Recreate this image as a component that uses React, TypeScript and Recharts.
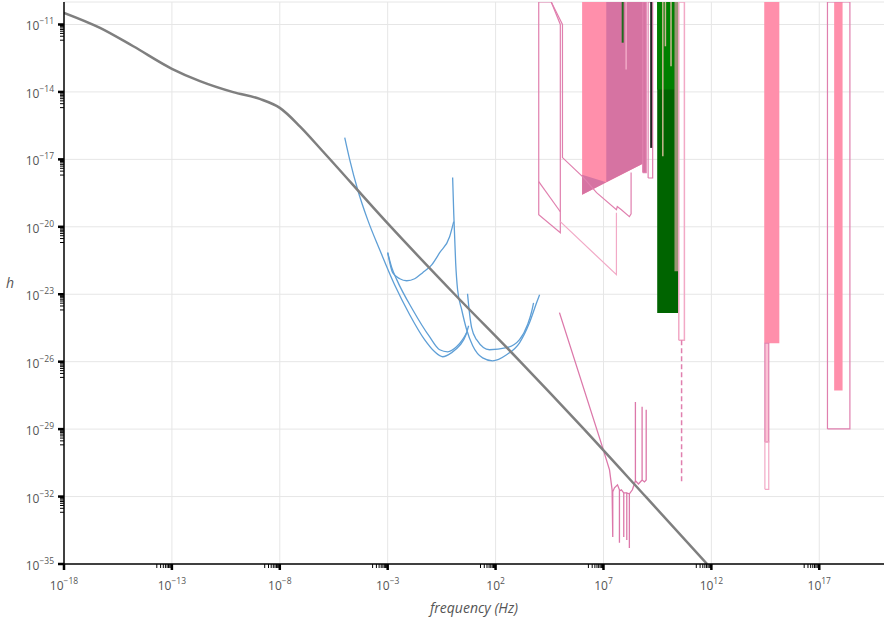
import React from 'react'
import { ComposedChart, Line, Area, XAxis, YAxis, CartesianGrid } from 'recharts'

// every value is log10: [log10 frequency (Hz), log10 h]
type Pt = [number, number]
type Rect = { x1: number; x2: number; y1: number; y2: number }

const xMajors = [-18, -13, -8, -3, 2, 7, 12, 17]
const yMajors = [-35, -32, -29, -26, -23, -20, -17, -14, -11]
const xDomain: [number, number] = [-18, 20]
const yDomain: [number, number] = [-35, -10]

const greyCurve: Pt[] = [
  [-18, -10.48], [-16.33, -11.15], [-14.79, -11.97], [-13, -12.97], [-11.7, -13.52],
  [-10.16, -14.01], [-8.93, -14.31], [-8, -14.71], [-7.07, -15.53], [-6, -16.65],
  [-3, -19.85], [0, -22.9], [3, -25.85], [6, -28.9], [9, -32.05], [11.8, -35],
]

const blueA: Pt[] = [
  [-4.99, -16.03], [-4.76, -17.01], [-4.39, -18.35], [-3.93, -19.68], [-3.37, -21.02],
  [-2.68, -22.58], [-1.98, -23.91], [-1.29, -25.02], [-0.82, -25.56], [-0.45, -25.78],
  [-0.04, -25.6], [0.33, -25.29], [0.61, -24.85], [0.75, -24.4],
]
const blueB: Pt[] = [
  [-3.0, -21.15], [-2.81, -21.82], [-2.58, -22.35], [-1.84, -23.69], [-1.06, -24.89],
  [-0.59, -25.47], [-0.22, -25.56], [0.19, -25.34], [0.47, -25.02], [0.66, -24.71],
]
const blueC: Pt[] = [
  [0.01, -17.81], [0.06, -19.37], [0.15, -21.6], [0.24, -22.8], [0.43, -23.69],
  [0.66, -24.58], [0.94, -25.29], [1.4, -25.83], [1.86, -25.96], [2.51, -25.69],
  [3.11, -25.16], [3.57, -24.27], [3.9, -23.38], [4.04, -23.02],
]
const blueD: Pt[] = [
  [-3.0, -21.15], [-2.77, -22.04], [-2.44, -22.31], [-2.12, -22.4], [-1.75, -22.31],
  [-1.38, -22.04], [-0.96, -21.69], [-0.59, -21.15], [-0.13, -20.44], [0.06, -19.77],
]
const blueE: Pt[] = [
  [0.7, -22.98], [0.8, -23.91], [0.89, -24.49], [1.12, -25.02], [1.72, -25.47],
  [2.51, -25.38], [3.11, -25.02], [3.48, -24.36], [3.67, -23.78], [3.76, -23.38],
]
const blueCurves = [blueA, blueB, blueC, blueD, blueE]

const pinkOutline1: Pt[] = [[4.58, -10], [4.0, -10], [4.0, -19.46], [5.0, -20.26], [5.0, -11], [4.58, -10]]
const pinkOutline1Inner: Pt[] = [[4.0, -17.99], [5.0, -19.33]]
const pinkOutline2: Pt[] = [
  [4.58, -10], [5.1, -11], [5.1, -16.92], [6.03, -17.77], [6.68, -18.48], [7.6, -19.24],
  [7.64, -19.1], [7.83, -19.24], [8.2, -19.55], [8.28, -19.42], [8.28, -17.59],
]
const pinkOutline3: Pt[] = [[5.0, -19.77], [7.6, -22.13], [7.6, -19.37]]

const pinkResonant: Pt[] = [
  [4.96, -23.82], [6.95, -29.79], [7.28, -30.81], [7.4, -31.7], [7.43, -33.8], [7.43, -31.79],
  [7.51, -31.61], [7.65, -31.48], [7.74, -31.7], [7.74, -34.06], [7.74, -31.75], [7.83, -31.7],
  [7.94, -31.84], [7.94, -33.8], [7.94, -31.84], [8.08, -31.84], [8.08, -33.93], [8.08, -31.84],
  [8.2, -31.88], [8.2, -34.29], [8.2, -31.88], [8.34, -31.7], [8.48, -31.3], [8.48, -27.79],
  [8.48, -31.3], [8.62, -31.44], [8.79, -31.26], [8.79, -28.01], [8.79, -31.26], [8.9, -31.35],
  [8.98, -31.26], [8.98, -28.14],
]

// [log10 f, low, high]
const pinkFillBand: [number, number, number][] = [[6.01, -18.57, -10], [8.82, -17.19, -10]]
const mauveFillBand: [number, number, number][] = [
  [6.01, -18.57, -17.68], [7.13, -18.02, -18.02], [7.13, -18.02, -10], [8.82, -17.19, -10],
]

const mauveRect: Rect = { x1: 8.82, x2: 8.98, y1: -17.59, y2: -10 }
const pinkRectB: Rect = { x1: 9.07, x2: 9.28, y1: -17.83, y2: -10 }
const greenDark: Rect = { x1: 9.49, x2: 10.49, y1: -23.84, y2: -10 }
const greenBright: Rect = { x1: 9.49, x2: 10.29, y1: -13.89, y2: -10 }
const tanColumn: Rect = { x1: 10.29, x2: 10.49, y1: -21.98, y2: -10 }
const pinkRectC: Rect = { x1: 10.49, x2: 10.75, y1: -25.05, y2: -10 }
const barA: Rect = { x1: 14.45, x2: 15.15, y1: -25.18, y2: -10 }
const barANarrow: Rect = { x1: 14.48, x2: 14.66, y1: -29.57, y2: -25.18 }
const barANarrowLow: Rect = { x1: 14.48, x2: 14.66, y1: -31.68, y2: -29.57 }
const boxB: Rect = { x1: 17.38, x2: 18.42, y1: -28.99, y2: -10 }
const barB: Rect = { x1: 17.69, x2: 18.08, y1: -27.28, y2: -10 }

const blackLine: Pt[] = [[9.21, -10], [9.21, -16.49]]
const tanLines: Pt[][] = [
  [[9.75, -10], [9.75, -16.86]],
  [[9.87, -10], [9.87, -11.97]],
  [[10.13, -10], [10.13, -12.86]],
]
const dashedLine: Pt[] = [[10.62, -25.05], [10.62, -31.37]]
const greenThin: Pt[] = [[7.89, -10], [7.89, -11.81]]
const pinkThin: Pt[] = [[8.05, -10], [8.05, -13.0]]

const minors = (majors: number[], lo: number) =>
  majors.flatMap((n) => [2, 3, 4, 5, 6, 7, 8, 9].map((k) => n - 1 + Math.log10(k))).filter((v) => v > lo)
const xTicks = [...xMajors, ...minors(xMajors, xDomain[0])].sort((a, b) => a - b)
const yTicks = [...yMajors, ...minors(yMajors, yDomain[0])].sort((a, b) => a - b)

const pts = (p: Pt[]) => p.map(([x, y]) => ({ x, y }))
const band = (b: [number, number, number][]) => b.map(([x, lo, hi]) => ({ x, r: [lo, hi] }))
const rectBand = (r: Rect) => band([[r.x1, r.y1, r.y2], [r.x2, r.y1, r.y2]])
const rectOutline = (r: Rect) =>
  pts([[r.x1, r.y1], [r.x1, r.y2], [r.x2, r.y2], [r.x2, r.y1], [r.x1, r.y1]])

const isMajor = (v: number) => Math.abs(v - Math.round(v)) < 1e-9
const expText = (v: number) => (v < 0 ? '\u2212' + Math.abs(v) : String(v))
const FONT = '"Open Sans", sans-serif'

function XTick(props: any) {
  const { x, y, payload } = props
  const major = isMajor(payload.value)
  return (
    <g>
      <line x1={x} x2={x} y1={y} y2={y + (major ? 6 : 4)} stroke="#000" strokeWidth={major ? 2.5 : 1} />
      {major && (
        <text x={x} y={y + 26} textAnchor="middle" fill="#555" fontSize={12} fontFamily={FONT}>
          10<tspan dy={-6} fontSize={8.5}>{expText(Math.round(payload.value))}</tspan>
        </text>
      )}
    </g>
  )
}

function YTick(props: any) {
  const { x, y, payload } = props
  const major = isMajor(payload.value)
  return (
    <g>
      <line x1={x - (major ? 6 : 4)} x2={x} y1={y} y2={y} stroke="#000" strokeWidth={major ? 2.5 : 1} />
      {major && (
        <text x={x - 10} y={y + 6} textAnchor="end" fill="#555" fontSize={12} fontFamily={FONT}>
          10<tspan dy={-6} fontSize={8.5}>{expText(Math.round(payload.value))}</tspan>
        </text>
      )}
    </g>
  )
}

const PINK = '#e07fae'
const PINK_LIGHT = '#f2a9c6'
const PINK_FILL = '#ff8fab'
const MAUVE = '#d673a2'

export default function App() {
  const line = (key: string, data: Pt[], stroke: string, width = 1.2, type: any = 'linear', dash?: string) => (
    <Line
      key={key}
      data={pts(data)}
      dataKey="y"
      type={type}
      stroke={stroke}
      strokeWidth={width}
      strokeDasharray={dash}
      dot={false}
      activeDot={false}
      isAnimationActive={false}
    />
  )
  const fill = (key: string, data: any[], color: string) => (
    <Area
      key={key}
      data={data}
      dataKey="r"
      type="linear"
      fill={color}
      fillOpacity={1}
      stroke="none"
      dot={false}
      activeDot={false}
      isAnimationActive={false}
    />
  )

  return (
    <div style={{ position: 'absolute', left: 0, top: 0, background: '#fff' }}>
      <ComposedChart width={884} height={617} margin={{ top: 2, right: 0, bottom: 0, left: 0 }}>
        <CartesianGrid
          stroke="#e6e6e6"
          verticalValues={xMajors.slice(1)}
          horizontalValues={[...yMajors.slice(1), -10]}
        />
        <XAxis
          dataKey="x"
          type="number"
          domain={xDomain}
          allowDataOverflow
          ticks={xTicks}
          interval={0}
          tickSize={0}
          tickMargin={0}
          tickLine={false}
          tick={<XTick />}
          axisLine={{ stroke: '#000', strokeWidth: 1.5 }}
          height={53}
          label={{
            value: 'frequency (Hz)',
            position: 'insideBottom',
            offset: 4,
            style: { fontStyle: 'italic', fill: '#555', fontSize: 14, fontFamily: FONT },
          }}
        />
        <YAxis
          type="number"
          domain={yDomain}
          allowDataOverflow
          ticks={yTicks}
          interval={0}
          tickSize={0}
          tickMargin={0}
          tickLine={false}
          tick={<YTick />}
          axisLine={{ stroke: '#000', strokeWidth: 1.5 }}
          width={64}
          label={{
            value: 'h',
            position: 'insideLeft',
            offset: 6,
            style: { fontStyle: 'italic', fill: '#555', fontSize: 14, fontFamily: FONT },
          }}
        />

        {fill('pinkFill', band(pinkFillBand), PINK_FILL)}
        {fill('mauveFill', band(mauveFillBand), MAUVE)}
        {fill('mauveRect', rectBand(mauveRect), MAUVE)}
        {fill('greenDark', rectBand(greenDark), '#006400')}
        {fill('greenBright', rectBand(greenBright), '#008000')}
        {fill('tanColumn', rectBand(tanColumn), '#9a9574')}
        {fill('barA', rectBand(barA), PINK_FILL)}
        {fill('barANarrow', rectBand(barANarrow), '#fbc3d5')}
        {fill('barB', rectBand(barB), PINK_FILL)}

        {line('o1', pinkOutline1, PINK)}
        {line('o1i', pinkOutline1Inner, PINK)}
        {line('o2', pinkOutline2, PINK)}
        {line('o3', pinkOutline3, PINK_LIGHT)}
        {line('res', pinkResonant, '#dc78aa', 1.3)}
        <Line
          data={rectOutline(mauveRect)}
          dataKey="y"
          type="linear"
          stroke={PINK}
          strokeWidth={1.2}
          dot={false}
          activeDot={false}
          isAnimationActive={false}
        />
        <Line
          data={rectOutline(pinkRectB)}
          dataKey="y"
          type="linear"
          stroke={PINK}
          strokeWidth={1.2}
          dot={false}
          activeDot={false}
          isAnimationActive={false}
        />
        <Line
          data={rectOutline(pinkRectC)}
          dataKey="y"
          type="linear"
          stroke={PINK_LIGHT}
          strokeWidth={1.5}
          dot={false}
          activeDot={false}
          isAnimationActive={false}
        />
        <Line
          data={rectOutline(barANarrow)}
          dataKey="y"
          type="linear"
          stroke={PINK}
          strokeWidth={1.2}
          dot={false}
          activeDot={false}
          isAnimationActive={false}
        />
        <Line
          data={rectOutline(barANarrowLow)}
          dataKey="y"
          type="linear"
          stroke={PINK_LIGHT}
          strokeWidth={1.2}
          dot={false}
          activeDot={false}
          isAnimationActive={false}
        />
        <Line
          data={rectOutline(boxB)}
          dataKey="y"
          type="linear"
          stroke={PINK}
          strokeWidth={1.2}
          dot={false}
          activeDot={false}
          isAnimationActive={false}
        />
        {line('dash', dashedLine, PINK, 1.5, 'linear', '5 3')}
        {line('black', blackLine, '#222', 2)}
        {tanLines.map((t, i) => line('tan' + i, t, '#c9b892', 1.5))}
        {line('greenThin', greenThin, '#1f6b1f', 2)}
        {line('pinkThin', pinkThin, PINK_LIGHT, 1.5)}

        {blueCurves.map((c, i) => line('blue' + i, c, '#5f9fd6', 1.3, 'monotone'))}
        {line('grey', greyCurve, '#7f7f7f', 2.5, 'monotone')}
      </ComposedChart>
    </div>
  )
}
